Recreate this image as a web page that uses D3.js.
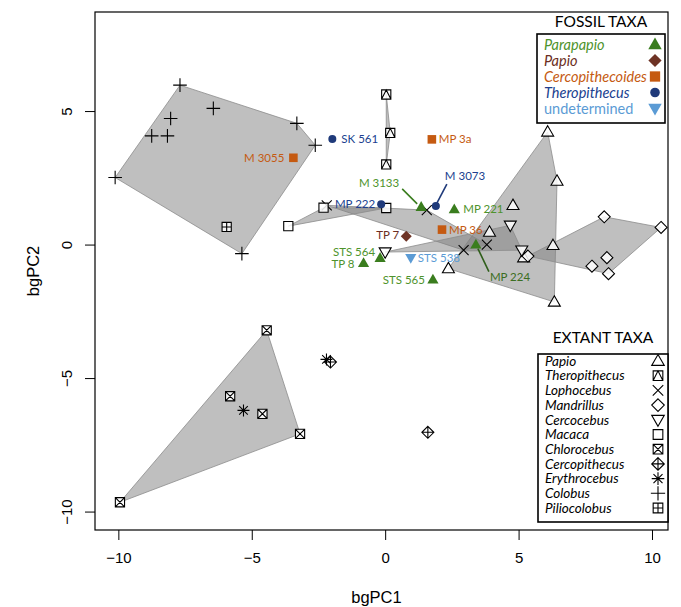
<!DOCTYPE html>
<html>
<head>
<meta charset="utf-8">
<script src="https://cdn.jsdelivr.net/npm/d3@7"></script>
<style>
  body { margin: 0; background: #fff; }
  svg { display: block; }
</style>
</head>
<body>
<div id="chart"></div>
<script>
// extant taxa (bgPC1, bgPC2 scores)
var taxa = ["Papio", "Theropithecus", "Lophocebus", "Mandrillus", "Cercocebus", "Macaca",
            "Chlorocebus", "Cercopithecus", "Erythrocebus", "Colobus", "Piliocolobus"];
var shapes = ["tri", "sqtri", "x", "dia", "dtri", "sq", "sqx", "diaplus", "ast", "plus", "sqplus"];

var papioX = [6.09, 6.44, 4.79, 3.91, 6.29, 5.19, 6.34, 2.37];
var papioY = [4.22, 2.38, 1.47, 0.47, -0.03, -0.49, -2.15, -0.90];
var theroX = [0.04, 0.19, 0.04];
var theroY = [5.62, 4.18, 3.00];
var lophoX = [-2.19, 1.56, 2.94, 3.81];
var lophoY = [1.47, 1.29, -0.21, 0.00];
var mandX = [8.21, 10.34, 8.31, 7.75, 8.37, 5.35];
var mandY = [1.04, 0.64, -0.49, -0.81, -1.09, -0.43];
var cercoX = [0.00, 4.69, 5.12];
var cercoY = [-0.28, 0.72, -0.21];
var macaX = [-3.63, -2.31, 0.04];
var macaY = [0.69, 1.38, 1.37];
var chloX = [-4.44, -5.81, -4.60, -3.19, -9.94];
var chloY = [-3.21, -5.68, -6.34, -7.09, -9.65];
var cercopX = [1.60, -2.05];
var cercopY = [-7.03, -4.40];
var erythX = [-5.31, -2.20];
var erythY = [-6.21, -4.30];
var colobX = [-7.69, -6.44, -8.04, -8.75, -8.16, -3.31, -2.62, -10.12, -5.37];
var colobY = [5.97, 5.10, 4.72, 4.07, 4.07, 4.54, 3.72, 2.51, -0.34];
var pilioX = [-5.94];
var pilioY = [0.66];

var extantX = [papioX, theroX, lophoX, mandX, cercoX, macaX, chloX, cercopX, erythX, colobX, pilioX];
var extantY = [papioY, theroY, lophoY, mandY, cercoY, macaY, chloY, cercopY, erythY, colobY, pilioY];

// fossil specimens
var fossilTaxa = ["Parapapio", "Papio", "Cercopithecoides", "Theropithecus", "undetermined"];
var fossilNames = ["SK 561", "M 3055", "MP 3a", "MP 222", "M 3133", "M 3073", "MP 221",
                   "MP 36", "TP 7", "STS 564", "TP 8", "STS 538", "STS 565", "MP 224"];
var fossilTaxon = ["Theropithecus", "Cercopithecoides", "Cercopithecoides", "Theropithecus",
                   "Parapapio", "Theropithecus", "Parapapio", "Cercopithecoides", "Papio",
                   "Parapapio", "Parapapio", "undetermined", "Parapapio", "Parapapio"];
var fossilX = [-1.98, -3.44, 1.75, -0.15, 1.35, 1.90, 2.59, 2.13, 0.79, -0.19, -0.81, 0.96, 1.79, 3.40];
var fossilY = [3.95, 3.25, 3.94, 1.51, 1.41, 1.44, 1.32, 0.56, 0.31, -0.50, -0.69, -0.50, -1.31, 0.00];

var xTicks = [-10, -5, 0, 5, 10];
var yTicks = [-10, -5, 0, 5];

// styles
var fossilShape = {Parapapio: "ftri", Papio: "fdia", Cercopithecoides: "fsq", Theropithecus: "fdot", undetermined: "fdtri"};
var fossilFill = {Parapapio: "#3a7d1e", Papio: "#6e3325", Cercopithecoides: "#c55a11", Theropithecus: "#1f3a7a", undetermined: "#5b9bd5"};
var fossilText = {Parapapio: "#4e932c", Papio: "#6b2e22", Cercopithecoides: "#c55a11", Theropithecus: "#203f8f", undetermined: "#5b9bd5"};

// label placement in px: dx, dy, anchor, optional leader line
var labelPos = [
  [9, 0, "start"], [-9, 0, "end"], [7, 0, "start"], [-6, 0, "end"],
  [-22, -24, "end", [-4, -3, -19, -18]], [9, -30, "start", [1, -3, 11, -22]],
  [9, 0, "start"], [7, 0, "start"], [-7, -1, "end"], [-5, -6, "end"],
  [-9, 1, "end"], [7, 0, "start"], [-8, 0, "end"], [14, 32, "start", [2, 4, 13, 27]]
];

var width = 681, height = 607;
var plot = {left: 95, right: 668, top: 12, bottom: 530};

var svg = d3.select("#chart").append("svg")
  .attr("width", width)
  .attr("height", height);

var x = d3.scaleLinear().domain([-10.875, 10.6]).range([plot.left, plot.right]);
var y = d3.scaleLinear().domain([-10.69, 8.71]).range([plot.bottom, plot.top]);

function symbolPath(s) {
  var r = 6, a = 4.6;
  switch (s) {
    case "tri": return "M0,-6.2L6,4.2L-6,4.2Z";
    case "dtri": return "M0,6.2L6,-4.2L-6,-4.2Z";
    case "sq": return "M" + -a + "," + -a + "H" + a + "V" + a + "H" + -a + "Z";
    case "sqtri": return symbolPath("sq") + "M" + -a + "," + a + "L0," + -a + "L" + a + "," + a;
    case "sqx": return symbolPath("sq") + "M" + -a + "," + -a + "L" + a + "," + a + "M" + -a + "," + a + "L" + a + "," + -a;
    case "sqplus": return symbolPath("sq") + "M" + -a + ",0H" + a + "M0," + -a + "V" + a;
    case "x": return "M-5,-5L5,5M-5,5L5,-5";
    case "plus": return "M-6.8,0H6.8M0,-6.8V6.8";
    case "ast": return "M-6,0H6M0,-6V6M-4.3,-4.3L4.3,4.3M-4.3,4.3L4.3,-4.3";
    case "dia": return "M0,-" + r + "L" + r + ",0L0," + r + "L-" + r + ",0Z";
    case "diaplus": return symbolPath("dia") + "M0,-" + r + "V" + r + "M-" + r + ",0H" + r;
    case "ftri": return "M0,-5.8L5.6,4L-5.6,4Z";
    case "fdtri": return "M0,5.8L5.6,-4L-5.6,-4Z";
    case "fdia": return "M0,-5.5L5.5,0L0,5.5L-5.5,0Z";
    case "fsq": return "M-4.3,-4.3H4.3V4.3H-4.3Z";
    case "fdot": return "M4,0A4,4 0 1,1 -4,0A4,4 0 1,1 4,0Z";
  }
}

// convex hulls
var hulls = svg.append("g");
taxa.forEach(function(t, i) {
  var pts = extantX[i].map(function(v, j) { return [x(v), y(extantY[i][j])]; });
  if (pts.length < 3) return;
  var h = d3.polygonHull(pts);
  hulls.append("path")
    .attr("d", "M" + h.join("L") + "Z")
    .attr("fill", "rgba(128,128,128,0.5)")
    .attr("stroke", "#8c8c8c")
    .attr("stroke-width", 0.8);
});

// extant points
taxa.forEach(function(t, i) {
  svg.append("g").selectAll("path")
    .data(extantX[i].map(function(v, j) { return [v, extantY[i][j]]; }))
    .enter().append("path")
    .attr("transform", function(d) { return "translate(" + x(d[0]) + "," + y(d[1]) + ")"; })
    .attr("d", symbolPath(shapes[i]))
    .attr("fill", shapes[i] == "ast" || shapes[i] == "plus" || shapes[i] == "x" ? "none" : "#fff")
    .attr("fill-opacity", 0.85)
    .attr("stroke", "#000")
    .attr("stroke-width", 1.1);
});

// fossil points + labels
var fossils = fossilNames.map(function(n, i) {
  return {name: n, taxon: fossilTaxon[i], x: fossilX[i], y: fossilY[i], lab: labelPos[i]};
});

svg.append("g").selectAll("line")
  .data(fossils.filter(function(d) { return d.lab[3]; }))
  .enter().append("line")
  .attr("x1", function(d) { return x(d.x) + d.lab[3][0]; })
  .attr("y1", function(d) { return y(d.y) + d.lab[3][1]; })
  .attr("x2", function(d) { return x(d.x) + d.lab[3][2]; })
  .attr("y2", function(d) { return y(d.y) + d.lab[3][3]; })
  .attr("stroke", function(d) { return d.name == "MP 224" ? "#2f5e1a" : fossilFill[d.taxon]; })
  .attr("stroke-width", 1.6);

svg.append("g").selectAll("path")
  .data(fossils)
  .enter().append("path")
  .attr("transform", function(d) { return "translate(" + x(d.x) + "," + y(d.y) + ")"; })
  .attr("d", function(d) { return symbolPath(fossilShape[d.taxon]); })
  .attr("fill", function(d) { return fossilFill[d.taxon]; });

svg.append("g").selectAll("text")
  .data(fossils)
  .enter().append("text")
  .attr("x", function(d) { return x(d.x) + d.lab[0]; })
  .attr("y", function(d) { return y(d.y) + d.lab[1]; })
  .attr("dy", "0.35em")
  .attr("text-anchor", function(d) { return d.lab[2]; })
  .attr("fill", function(d) { return d.name == "MP 224" ? "#3b6e22" : fossilText[d.taxon]; })
  .style("font-family", "Lato, 'Noto Sans', sans-serif")
  .style("font-size", "11.5px")
  .text(function(d) { return d.name; });

// frame + axes
svg.append("rect")
  .attr("x", plot.left).attr("y", plot.top)
  .attr("width", plot.right - plot.left).attr("height", plot.bottom - plot.top)
  .attr("fill", "none").attr("stroke", "#000").attr("stroke-width", 1.2);

var xAxis = svg.append("g")
  .attr("transform", "translate(0," + plot.bottom + ")")
  .call(d3.axisBottom(x).tickValues(xTicks).tickSize(10).tickPadding(12).tickFormat(d3.format("d")));
var yAxis = svg.append("g")
  .attr("transform", "translate(" + plot.left + ",0)")
  .call(d3.axisLeft(y).tickValues(yTicks).tickSize(10).tickPadding(0).tickFormat(d3.format("d")));
[xAxis, yAxis].forEach(function(g) {
  g.select(".domain").remove();
  g.selectAll("line").attr("stroke", "#000");
  g.selectAll("text").style("font-family", "'Liberation Sans', Arial, sans-serif").style("font-size", "15px").attr("fill", "#000");
});
yAxis.selectAll("text")
  .attr("text-anchor", "middle").attr("x", 0).attr("dy", 0)
  .attr("transform", "translate(-28,0) rotate(-90)")
  .attr("y", 5);

svg.append("text")
  .attr("x", (plot.left + plot.right) / 2 - 5).attr("y", 603)
  .attr("text-anchor", "middle")
  .style("font-family", "'Liberation Sans', Arial, sans-serif").style("font-size", "16.5px")
  .text("bgPC1");
svg.append("text")
  .attr("transform", "translate(39," + ((plot.top + plot.bottom) / 2) + ") rotate(-90)")
  .attr("text-anchor", "middle")
  .style("font-family", "'Liberation Sans', Arial, sans-serif").style("font-size", "16.5px")
  .text("bgPC2");

// legends
function legend(title, titleY, box, names, symbols, colors, symColors, step, firstY, fontSize, symScale) {
  var g = svg.append("g");
  g.append("rect")
    .attr("x", box[0]).attr("y", box[1]).attr("width", box[2] - box[0]).attr("height", box[3] - box[1])
    .attr("fill", "#fff").attr("stroke", "#000").attr("stroke-width", 1.6);
  g.append("text")
    .attr("x", (box[0] + box[2]) / 2).attr("y", titleY)
    .attr("text-anchor", "middle")
    .style("font-family", "Lato, 'Noto Sans', sans-serif").style("font-size", "15.5px")
    .text(title);
  names.forEach(function(n, i) {
    var yy = firstY + i * step;
    g.append("text")
      .attr("x", box[0] + 7).attr("y", yy).attr("dy", "0.35em")
      .attr("fill", colors[i])
      .style("font-family", "Lato, 'Noto Sans', sans-serif").style("font-size", fontSize)
      .style("font-style", n == "undetermined" ? "normal" : "italic")
      .text(n);
    g.append("path")
      .attr("transform", "translate(" + (box[2] - 10) + "," + yy + ") scale(" + symScale + ")")
      .attr("d", symbolPath(symbols[i]))
      .attr("fill", symColors ? symColors[i] : (symbols[i] == "ast" || symbols[i] == "plus" || symbols[i] == "x" ? "none" : "#fff"))
      .attr("stroke", symColors ? "none" : "#000")
      .attr("stroke-width", 1.1 / symScale);
  });
}

legend("FOSSIL TAXA", 27, [537, 34, 665, 123], fossilTaxa,
  fossilTaxa.map(function(t) { return fossilShape[t]; }),
  fossilTaxa.map(function(t) { return fossilText[t]; }),
  fossilTaxa.map(function(t) { return fossilFill[t]; }),
  16, 44.5, "14.5px", 1.2);

legend("EXTANT TAXA", 343, [538, 354, 668, 522], taxa, shapes,
  taxa.map(function() { return "#000"; }), null,
  14.7, 361, "13.5px", 1.05);
</script>
</body>
</html>
